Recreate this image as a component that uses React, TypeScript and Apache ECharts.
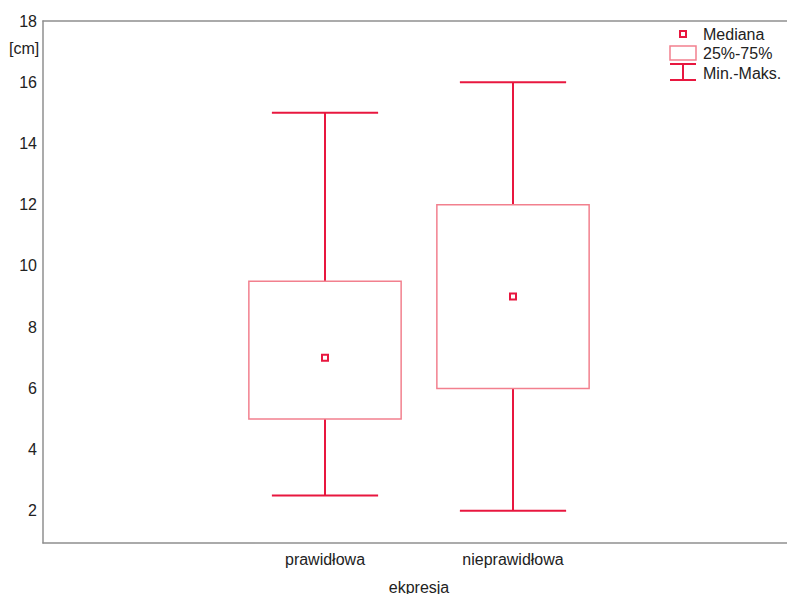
import React, { useEffect, useRef } from "react";
import * as echarts from "echarts";

const categories = ["", "prawidłowa", "nieprawidłowa", ""];
const groups = ["prawidłowa", "nieprawidłowa"];
const minValues = [2.5, 2];
const q1Values = [5, 6];
const medianValues = [7, 9];
const q3Values = [9.5, 12];
const maxValues = [15, 16];
const yTicks = [2, 4, 6, 8, 10, 12, 14, 16, 18];

const WHISKER = "#e8173f";
const BOX = "#f2808e";
const FRAME = "#8f8f8f";
const FONT = "Liberation Sans, Arial, sans-serif";

export default function App() {
  const ref = useRef<HTMLDivElement>(null);
  useEffect(() => {
    if (!ref.current) return;
    const chart = echarts.init(ref.current, undefined, { renderer: "svg" });
    const data = groups.map((g, i) => [
      g,
      minValues[i],
      q1Values[i],
      medianValues[i],
      q3Values[i],
      maxValues[i],
    ]);
    chart.setOption({
      animation: false,
      backgroundColor: "#ffffff",
      grid: {
        left: 43,
        top: 21,
        width: 752,
        height: 522,
        outerBoundsMode: "none",
        containLabel: false,
        show: false,
      },
      xAxis: [
        {
          type: "category",
          data: categories,
          boundaryGap: true,
          axisLine: { show: true, lineStyle: { color: FRAME, width: 1.5 } },
          axisTick: { show: false },
          splitLine: { show: false },
          axisLabel: {
            interval: 0,
            color: "#222",
            fontSize: 16,
            fontFamily: FONT,
            margin: 8,
          },
          name: "ekpresja",
          nameLocation: "middle",
          nameGap: 44,
          nameTextStyle: {
            color: "#222",
            fontSize: 16,
            fontFamily: FONT,
            verticalAlign: "middle",
          },
        },
        {
          type: "category",
          data: categories,
          position: "top",
          boundaryGap: true,
          axisLine: { show: true, lineStyle: { color: FRAME, width: 1.5 } },
          axisTick: { show: false },
          axisLabel: { show: false },
          splitLine: { show: false },
        },
      ],
      yAxis: {
        type: "value",
        min: 0.95,
        max: 18,
        axisLine: { show: true, lineStyle: { color: FRAME, width: 1.5 } },
        axisTick: { show: false },
        splitLine: { show: false },
        axisLabel: {
          customValues: yTicks,
          color: "#222",
          fontSize: 16,
          fontFamily: FONT,
          margin: 6,
        },
      },
      series: [
        {
          type: "custom",
          data: data,
          encode: { x: 0, y: [1, 2, 3, 4, 5] },
          renderItem: (params: any, api: any) => {
            const x = api.value(0);
            const vMin = api.value(1);
            const vQ1 = api.value(2);
            const vMed = api.value(3);
            const vQ3 = api.value(4);
            const vMax = api.value(5);
            const band = api.size([1, 0])[0];
            const pMin = api.coord([x, vMin]);
            const pQ1 = api.coord([x, vQ1]);
            const pMed = api.coord([x, vMed]);
            const pQ3 = api.coord([x, vQ3]);
            const pMax = api.coord([x, vMax]);
            const cx = pMed[0];
            const boxW = band * 0.81;
            const capW = band * 0.565;
            const wStyle = { stroke: WHISKER, lineWidth: 2, fill: "none" };
            return {
              type: "group",
              children: [
                { type: "line", shape: { x1: cx, y1: pMax[1], x2: cx, y2: pQ3[1] }, style: wStyle },
                { type: "line", shape: { x1: cx, y1: pQ1[1], x2: cx, y2: pMin[1] }, style: wStyle },
                { type: "line", shape: { x1: cx - capW / 2, y1: pMax[1], x2: cx + capW / 2, y2: pMax[1] }, style: wStyle },
                { type: "line", shape: { x1: cx - capW / 2, y1: pMin[1], x2: cx + capW / 2, y2: pMin[1] }, style: wStyle },
                {
                  type: "rect",
                  shape: { x: cx - boxW / 2, y: pQ3[1], width: boxW, height: pQ1[1] - pQ3[1] },
                  style: { stroke: BOX, lineWidth: 1.5, fill: "none" },
                },
                {
                  type: "rect",
                  shape: { x: cx - 3, y: pMed[1] - 3, width: 6, height: 6 },
                  style: { stroke: WHISKER, lineWidth: 2, fill: "#fff" },
                },
              ],
            };
          },
        },
      ],
      graphic: [
        { type: "text", x: 9, y: 48, style: { text: "[cm]", fill: "#222", font: `16px ${FONT}`, verticalAlign: "middle" } },
        { type: "rect", shape: { x: 680, y: 31, width: 6, height: 6 }, style: { stroke: WHISKER, lineWidth: 2, fill: "#fff" } },
        { type: "rect", shape: { x: 670, y: 46, width: 26, height: 14 }, style: { stroke: BOX, lineWidth: 1.5, fill: "none" } },
        { type: "line", shape: { x1: 670, y1: 64, x2: 696, y2: 64 }, style: { stroke: WHISKER, lineWidth: 2 } },
        { type: "line", shape: { x1: 683, y1: 64, x2: 683, y2: 80 }, style: { stroke: WHISKER, lineWidth: 2 } },
        { type: "line", shape: { x1: 670, y1: 80, x2: 696, y2: 80 }, style: { stroke: WHISKER, lineWidth: 2 } },
        { type: "text", x: 703, y: 34, style: { text: "Mediana", fill: "#222", font: `16px ${FONT}`, verticalAlign: "middle" } },
        { type: "text", x: 703, y: 53, style: { text: "25%-75%", fill: "#222", font: `16px ${FONT}`, verticalAlign: "middle" } },
        { type: "text", x: 703, y: 73, style: { text: "Min.-Maks.", fill: "#222", font: `16px ${FONT}`, verticalAlign: "middle" } },
      ],
    });
    return () => chart.dispose();
  }, []);
  return (
    <div
      ref={ref}
      style={{ position: "fixed", left: 0, top: 0, width: 787, height: 594 }}
    />
  );
}
